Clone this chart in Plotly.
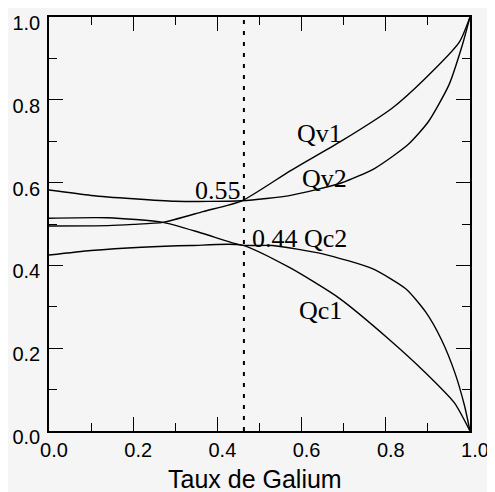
import plotly.graph_objects as go

# ---- data ----
qv1_x = [0.0, 0.14, 0.2, 0.271, 0.366, 0.458, 0.574, 0.694, 0.814, 0.893, 0.975, 1.0]
qv1_y = [0.495, 0.496, 0.499, 0.504, 0.530, 0.556, 0.629, 0.700, 0.779, 0.851, 0.940, 1.0]

qv2_x = [0.0, 0.1, 0.2, 0.3, 0.458, 0.574, 0.694, 0.773, 0.853, 0.901, 0.950, 0.982, 1.0]
qv2_y = [0.582, 0.569, 0.561, 0.555, 0.556, 0.569, 0.599, 0.634, 0.692, 0.747, 0.836, 0.933, 1.0]

qc2_x = [0.0, 0.14, 0.271, 0.366, 0.458, 0.531, 0.65, 0.768, 0.848, 0.895, 0.932, 0.964, 0.987, 1.0]
qc2_y = [0.514, 0.515, 0.504, 0.477, 0.449, 0.448, 0.428, 0.392, 0.343, 0.287, 0.221, 0.141, 0.061, 0.0]

qc1_x = [0.0, 0.1, 0.22, 0.339, 0.458, 0.571, 0.689, 0.806, 0.893, 0.963, 1.0]
qc1_y = [0.425, 0.436, 0.444, 0.448, 0.449, 0.395, 0.321, 0.223, 0.142, 0.068, 0.0]

marker_x = 0.463
label_names = ["Qv1", "Qv2", "Qc1"]
value_labels = ["0.55", "0.44 Qc2"]
x_title = "Taux de Galium"
tick_vals = [0.0, 0.2, 0.4, 0.6, 0.8, 1.0]
tick_text = ["0.0", "0.2", "0.4", "0.6", "0.8", "1.0"]

fig = go.Figure()
line = dict(color="black", width=1.4, shape="spline", smoothing=0.6)
for xs, ys in [(qv1_x, qv1_y), (qv2_x, qv2_y), (qc2_x, qc2_y), (qc1_x, qc1_y)]:
    fig.add_trace(go.Scatter(x=xs, y=ys, mode="lines", line=line,
                             showlegend=False, hoverinfo="skip"))

fig.add_trace(go.Scatter(x=[marker_x, marker_x], y=[0, 1], mode="lines",
                         line=dict(color="black", width=2, dash="4px,7px"),
                         showlegend=False, hoverinfo="skip"))

serif = "Liberation Serif, Times New Roman, serif"
ann = [
    (label_names[0], 0.642, 0.718, "center"),
    (label_names[1], 0.654, 0.611, "center"),
    (label_names[2], 0.646, 0.290, "center"),
    (value_labels[0], 0.460, 0.582, "right"),
    (value_labels[1], 0.477, 0.466, "left"),
]
for txt, x, y, al in ann:
    fig.add_annotation(x=x, y=y, text=txt, showarrow=False, xanchor=al,
                       yanchor="middle", font=dict(family=serif, size=26, color="black"))

# axis title placed as in the reference
fig.add_annotation(x=0.489, y=-0.078, xref="paper", yref="paper", text=x_title,
                   showarrow=False, xanchor="center", yanchor="top",
                   font=dict(family="Liberation Sans, Arial, sans-serif", size=25, color="black"))

axis_common = dict(
    range=[0, 1], showgrid=False, zeroline=False, showline=True, automargin=False,
    linecolor="black", linewidth=1.5, mirror="ticks", ticks="inside",
    ticklen=14, tickwidth=1.3, tickcolor="black",
    tickvals=tick_vals, ticktext=tick_text, ticklabeloverflow="allow",
    tickfont=dict(family="Liberation Sans, Arial, sans-serif", size=20, color="black"),
    minor=dict(dtick=0.1, ticks="inside", ticklen=8, tickwidth=1.3, tickcolor="black"),
)

fig.update_xaxes(**axis_common, ticklabelshift=5)
fig.update_yaxes(**axis_common, ticklabelshift=6, ticklabelstandoff=3)

fig.update_layout(
    width=495, height=492,
    margin=dict(l=41, r=33, t=9, b=69),
    paper_bgcolor="#f5f5f5", plot_bgcolor="#f5f5f5",
)

fig.write_html("out.html")
